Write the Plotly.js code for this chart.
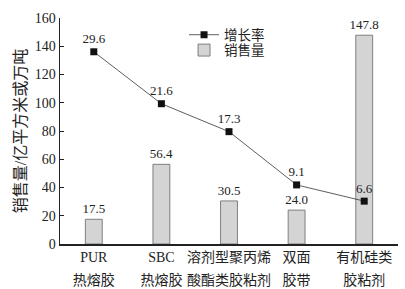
<!DOCTYPE html>
<html><head><meta charset="utf-8">
<script src="https://cdn.plot.ly/plotly-3.0.1.min.js"></script>
<style>html,body{margin:0;padding:0;background:#fff}#c{width:405px;height:289px}</style>
</head><body><div id="c"></div>
<script>
const categories = ["PUR<br>热熔胶", "SBC<br>热熔胶", "溶剂型聚丙烯<br>酸酯类胶粘剂", "双面<br>胶带", "有机硅类<br>胶粘剂"];
const sales = [17.5, 56.4, 30.5, 24.0, 147.8];
const growth = [29.6, 21.6, 17.3, 9.1, 6.6];
const yTicks = [0, 20, 40, 60, 80, 100, 120, 140, 160];

const line1 = categories.map(c => c.split('<br>')[0]);
const line2 = categories.map(c => c.split('<br>')[1]);

const F = "Liberation Serif, Noto Sans CJK SC, serif";
const growthTrace = {
  x: categories, y: growth, xaxis: 'x2', yaxis: 'y2', name: '增长率', legend: 'legend',
  type: 'scatter', mode: 'lines+markers+text',
  text: growth.map(v => v.toFixed(1)), textposition: 'top center',
  textfont: {family: F, size: 13, color: '#222'},
  line: {color: '#333', width: 0.8},
  marker: {symbol: 'square', size: 7, color: '#111'},
  cliponaxis: false
};
const salesTrace = {
  x: categories, y: sales, name: '销售量', type: 'bar', legend: 'legend2',
  text: sales.map(v => v.toFixed(1)), textposition: 'outside', constraintext: 'none',
  textfont: {family: F, size: 13, color: '#222'},
  marker: {color: '#d4d4d4', line: {color: '#666', width: 0.8}},
  width: 0.25, cliponaxis: false
};
const legBase = {x: 0.367, xanchor: 'left', yanchor: 'middle', font: {family: F, size: 13.5},
  bgcolor: 'rgba(0,0,0,0)', itemwidth: 30};
Plotly.newPlot('c', [salesTrace, growthTrace], {
  width: 405, height: 289,
  margin: {l: 60, r: 7, t: 18, b: 45},
  paper_bgcolor: '#fff', plot_bgcolor: '#fff',
  font: {family: F, color: '#222', size: 14},
  showlegend: true,
  legend: Object.assign({}, legBase, {y: 0.925}),
  legend2: Object.assign({}, legBase, {y: 0.857}),
  xaxis: {type: 'category', range: [-0.5, 4.5], showline: true, linecolor: '#222', linewidth: 1.5,
    ticks: '', tickmode: 'array', tickvals: categories, ticktext: line1,
    tickfont: {family: F, size: 14}},
  xaxis2: {overlaying: 'x', anchor: 'y', side: 'bottom', type: 'category', range: [-0.5, 4.5],
    tickmode: 'array', tickvals: categories, ticktext: line2, ticks: '', showline: false,
    showgrid: false, zeroline: false, ticklabelstandoff: 26, tickfont: {family: F, size: 14}},
  yaxis: {range: [0, 160], tickvals: yTicks, showline: true, linecolor: '#222', linewidth: 1.5,
    ticks: 'inside', ticklen: 4, tickcolor: '#222', showgrid: false, zeroline: false,
    tickfont: {family: F, size: 14},
    title: {text: '销售量/亿平方米或万吨', font: {family: F, size: 16}, standoff: 4}},
  yaxis2: {overlaying: 'y', anchor: 'x', range: [0, 34.8], visible: false, showgrid: false, zeroline: false},
  bargap: 0.75
}, {staticPlot: true});
</script></body></html>
